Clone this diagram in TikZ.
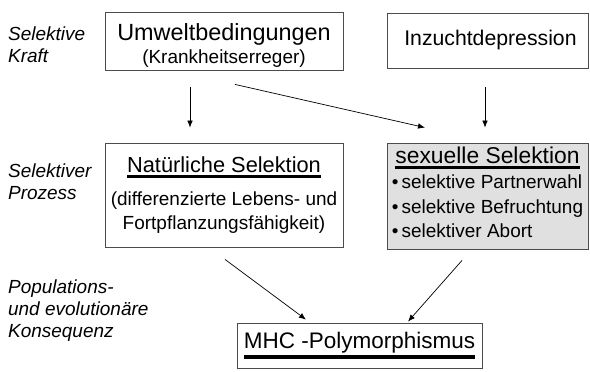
\documentclass[tikz,border=0pt]{standalone}
\usepackage{fontspec}
\setmainfont{Liberation Sans}
\usetikzlibrary{arrows.meta}

\newcommand{\titlefont}[1][31]{\fontsize{#1}{36}\selectfont}
\newcommand{\subfont}{\fontsize{27}{33}\selectfont}
\newcommand{\sidefont}{\fontsize{27}{31.3}\selectfont\itshape}
\newcommand{\ulbar}[1]{\vtop{\hbox{#1}\kern2.5pt\hrule height 5pt}}

\begin{document}
\begin{tikzpicture}[
  every node/.style={font=\subfont},
  box/.style={draw=black!70, line width=1.2pt, fill=white, align=center,
    inner sep=0pt},
  greybox/.style={box, fill=black!12},
  side/.style={font=\sidefont, align=left, anchor=west, inner sep=0pt},
  arr/.style={-{Latex[length=10pt, width=8pt]}, line width=1pt}
]
\useasboundingbox (0,0) rectangle (29.5,-18.55);

% row labels
\node[side] (kraft) at (0.4,-2.225) {Selektive\\Kraft};
\node[side] (prozess) at (0.4,-9.1) {Selektiver\\Prozess};
\node[side] (folge) at (0.4,-15.55) {Populations-\\und evolution\"are\\Konsequenz};

% boxes
\node[box, minimum width=11.9cm, minimum height=2.9cm] (umwelt) at (11.2,-2.05)
  {{\titlefont[33.3]\rule{0pt}{36pt}Umweltbedingungen}\\(Krankheitserreger)};
\node[box, minimum width=10.05cm, minimum height=2.75cm] (inzucht) at (24.375,-2.025)
  {\titlefont[30.2] Inzuchtdepression};
\node[box, minimum width=11.9cm, minimum height=5.2cm] (natsel) at (11.2,-9.75)
  {{\titlefont\ulbar{Nat\"urliche Selektion}}\\[14pt]
   (differenzierte Lebens- und\\Fortpflanzungsf\"ahigkeit)};
\node[greybox, minimum width=10.05cm, minimum height=5.3cm] (sexsel) at (24.375,-9.8)
  {{\titlefont[32.5]\ulbar{sexuelle Selektion}}\\[2pt]
   \def\arraystretch{1.06}%
   \begin{tabular}{@{}l@{}}
   \textbullet\,selektive Partnerwahl\\
   \textbullet\,selektive Befruchtung\\
   \textbullet\,selektiver Abort
   \end{tabular}};
\node[box, minimum width=12.25cm, minimum height=2.25cm] (mhc) at (17.975,-17.275)
  {\titlefont[32]\ulbar{MHC -Polymorphismus}};

% arrows
\draw[arr] ([xshift=-1.7cm, yshift=-0.85cm]umwelt.south)
  -- ([xshift=-1.7cm, yshift=0.75cm]natsel.north);
\draw[arr] ([xshift=0.55cm, yshift=-0.7cm]umwelt.south)
  -- ([xshift=-3.125cm, yshift=0.75cm]sexsel.north);
\draw[arr] ([xshift=-0.125cm, yshift=-0.95cm]inzucht.south)
  -- ([xshift=-0.125cm, yshift=0.75cm]sexsel.north);
\draw[arr] ([xshift=0.05cm, yshift=-0.6cm]natsel.south)
  -- ([xshift=-2.675cm, yshift=0.15cm]mhc.north);
\draw[arr] ([xshift=-1.275cm, yshift=-0.55cm]sexsel.south)
  -- ([xshift=2.425cm, yshift=0.05cm]mhc.north);
\end{tikzpicture}
\end{document}
